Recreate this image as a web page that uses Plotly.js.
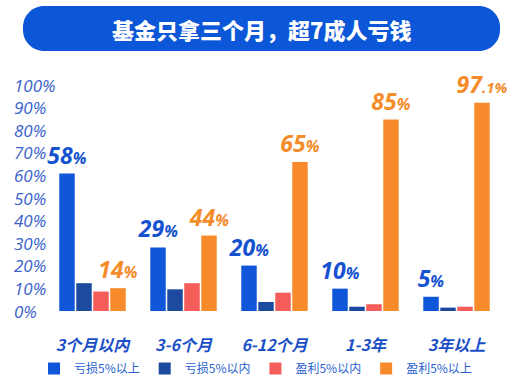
<!DOCTYPE html>
<html><head><meta charset="utf-8">
<script src="https://cdn.plot.ly/plotly-3.0.1.min.js"></script>
<style>html,body{margin:0;padding:0;background:#fff}#chart{width:522px;height:390px}</style>
</head><body><div id="chart"></div>
<script>
// ---- data ----
const categories = ['3个月以内', '3-6个月', '6-12个月', '1-3年', '3年以上'];
const seriesNames = ['亏损5%以上', '亏损5%以内', '盈利5%以内', '盈利5%以上'];
const lossOver5 = [60.8, 28.1, 20.1, 9.9, 6.3];
const lossUnder5 = [12.3, 9.6, 4.0, 1.9, 1.5];
const gainUnder5 = [8.6, 12.3, 8.1, 3.0, 1.9];
const gainOver5 = [10.1, 33.4, 65.9, 84.7, 92.1];
const lossLabels = ['58', '29', '20', '10', '5'];
const gainLabels = ['14', '44', '65', '85', '97.1'];
const yTickValues = [0, 10, 20, 30, 40, 50, 60, 70, 80, 90, 100];
const titleText = '基金只拿三个月，超7成人亏钱';

// ---- styling ----
const W = 522, H = 390;
const M = {l: 47, r: 20, t: 85, b: 79};
const PW = W - M.l - M.r, PH = H - M.t - M.b;
const px = x => (x - M.l) / PW;
const py = y => (H - M.b - y) / PH;
const colors = ['#0f56d9', '#1b4a9e', '#f45d5a', '#f78b2b'];
const blueText = '#1652cf', orangeText = '#f58c2a', axisText = '#3a62cc';
const numFont = 'Open Sans, Noto Sans CJK SC, sans-serif';
const cjk = 'Noto Sans CJK SC, sans-serif';

function fmt(v) {
  const parts = v.split('.');
  if (parts.length > 1) return parts[0] + '<span style="font-size:15px">.' + parts[1] + '%</span>';
  return v + '<span style="font-size:16px">%</span>';
}

const values = [lossOver5, lossUnder5, gainUnder5, gainOver5];
const texts = [lossLabels.map(fmt), null, null, gainLabels.map(fmt)];
const textColors = [blueText, null, null, orangeText];

const traces = values.map((v, i) => ({
  type: 'bar', name: seriesNames[i], x: categories, y: v,
  marker: {color: colors[i]},
  text: texts[i] || undefined,
  textposition: texts[i] ? 'outside' : 'none',
  constraintext: 'none', cliponaxis: false,
  textfont: {family: numFont, size: 23, weight: 'bold', style: 'italic', color: textColors[i] || '#000'},
  hoverinfo: 'none'
}));

// rounded banner path in paper coords
function pill(x0, y0, x1, y1, r) {
  const k = 0.5523 * r;
  const X = px, Y = py;
  return 'M' + X(x0 + r) + ',' + Y(y0) +
    ' L' + X(x1 - r) + ',' + Y(y0) +
    ' C' + X(x1 - r + k) + ',' + Y(y0) + ' ' + X(x1) + ',' + Y(y0 + r - k) + ' ' + X(x1) + ',' + Y(y0 + r) +
    ' L' + X(x1) + ',' + Y(y1 - r) +
    ' C' + X(x1) + ',' + Y(y1 - r + k) + ' ' + X(x1 - r + k) + ',' + Y(y1) + ' ' + X(x1 - r) + ',' + Y(y1) +
    ' L' + X(x0 + r) + ',' + Y(y1) +
    ' C' + X(x0 + r - k) + ',' + Y(y1) + ' ' + X(x0) + ',' + Y(y1 - r + k) + ' ' + X(x0) + ',' + Y(y1 - r) +
    ' L' + X(x0) + ',' + Y(y0 + r) +
    ' C' + X(x0) + ',' + Y(y0 + r - k) + ' ' + X(x0 + r - k) + ',' + Y(y0) + ' ' + X(x0 + r) + ',' + Y(y0) + ' Z';
}

const annotations = yTickValues.map(v => ({
  xref: 'paper', yref: 'y', x: px(12), y: v, xanchor: 'left', yanchor: 'middle',
  text: v + '%', showarrow: false,
  font: {family: numFont, size: 17, style: 'italic', color: axisText}
}));
annotations.push({
  xref: 'paper', yref: 'paper', x: px(261.5), y: py(28.5), xanchor: 'center', yanchor: 'middle',
  text: titleText, showarrow: false,
  font: {family: cjk, size: 22, weight: 900, color: '#ffffff'}
});

const layout = {
  width: W, height: H, margin: M,
  paper_bgcolor: '#ffffff', plot_bgcolor: '#ffffff',
  barmode: 'group', bargap: 0.253, bargroupgap: 0.09,
  showlegend: true,
  legend: {orientation: 'h', xref: 'container', yref: 'container',
    x: 34 / W, xanchor: 'left', y: 1 - 354 / H, yanchor: 'top',
    font: {family: cjk, size: 12, color: '#2b5fd0'}, itemclick: false, traceorder: 'normal'},
  xaxis: {type: 'category', automargin: false, showgrid: false, zeroline: false, showline: false,
    ticks: 'outside', ticklen: 20, tickcolor: 'rgba(0,0,0,0)',
    tickfont: {family: cjk, size: 16, weight: 'bold', style: 'italic', color: '#1a4fc7'}},
  yaxis: {range: [0, 100], automargin: false, showgrid: false, zeroline: false, showline: false, showticklabels: false, ticks: ''},
  shapes: [{type: 'path', xref: 'paper', yref: 'paper', path: pill(23, 6, 500, 51, 21),
    fillcolor: '#0c56d8', line: {width: 0}, layer: 'below'}],
  annotations: annotations
};

Plotly.newPlot('chart', traces, layout, {displayModeBar: false, staticPlot: true});
</script></body></html>
